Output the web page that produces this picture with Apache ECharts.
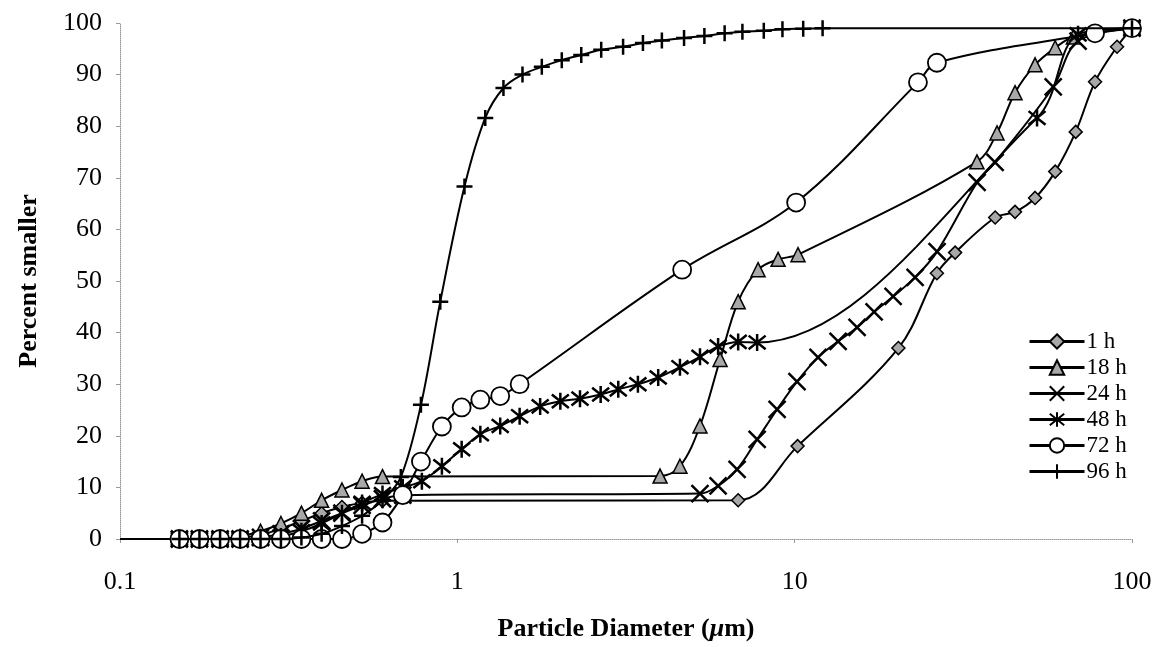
<!DOCTYPE html>
<html>
<head>
<meta charset="utf-8">
<script src="https://cdn.jsdelivr.net/npm/echarts@6/dist/echarts.min.js"></script>
<style>
  html, body { margin: 0; padding: 0; background: #fff; }
  #chart { width: 1162px; height: 647px; }
</style>
</head>
<body>
<div id="chart"></div>
<script>
// Cumulative particle size distributions: [diameter (µm), percent smaller]
const h1 = [
  [0.1, 0], [0.15, 0], [0.172, 0], [0.198, 0], [0.227, 0.3], [0.261, 0.8], [0.3, 2], [0.345, 3.5],
  [0.396, 5], [0.455, 6.2], [0.522, 7], [0.6, 7.4],
  [6.8, 7.5], [10.2, 18], [20.3, 37], [26.4, 51.5], [29.9, 55.5], [39.3, 62.3], [45, 63.4],
  [51.6, 66.1], [59.2, 71.2], [68.1, 78.9], [77.7, 88.6], [90.3, 95.4], [100, 99]
];
const h18 = [
  [0.15, 0], [0.172, 0], [0.198, 0], [0.227, 0.5], [0.261, 1.5], [0.3, 3], [0.345, 5], [0.396, 7.5],
  [0.455, 9.5], [0.522, 11.2], [0.6, 12.1],
  [3.99, 12.2], [4.57, 14.1], [5.24, 21.9], [6.01, 34.8], [6.8, 46], [7.79, 52.2], [8.93, 54.2],
  [10.23, 55.1], [34.7, 73.1], [39.8, 78.7], [45, 86.5], [51.6, 91.9], [59.2, 95.2], [67, 97.3], [100, 99]
];
const h24 = [
  [0.15, 0], [0.172, 0], [0.198, 0], [0.227, 0], [0.261, 0.3], [0.3, 1], [0.345, 2], [0.396, 3.5],
  [0.455, 5], [0.522, 6.5], [0.6, 7.8], [0.689, 8.5],
  [5.24, 8.8], [5.93, 10.3], [6.75, 13.5], [7.74, 19.3], [8.87, 25.1], [10.16, 30.5], [11.73, 35.2],
  [13.45, 38.3], [15.31, 41], [17.2, 44], [19.58, 47], [22.75, 50.7], [26.44, 55.7], [34.74, 69.1],
  [39.28, 73], [58.4, 87.6], [69.2, 96.5], [100, 99]
];
const h48 = [
  [0.15, 0], [0.172, 0], [0.198, 0], [0.227, 0], [0.261, 0], [0.3, 0.5], [0.345, 1.5], [0.396, 3],
  [0.455, 5], [0.522, 7], [0.6, 8.7], [0.689, 10], [0.785, 11.2], [0.9, 14.1], [1.03, 17.4],
  [1.17, 20.3], [1.34, 21.9], [1.53, 23.8], [1.76, 25.7], [2.02, 26.7], [2.31, 27.2], [2.66, 28],
  [3.0, 29], [3.43, 30], [3.94, 31.3], [4.57, 33.3], [5.24, 35.3], [5.93, 37.3], [6.8, 38.2],
  [7.74, 38.1], [52.3, 81.6], [69.2, 97.8], [100, 99]
];
const h72 = [
  [0.15, 0], [0.172, 0], [0.198, 0], [0.227, 0], [0.261, 0], [0.3, 0], [0.345, 0], [0.396, 0],
  [0.455, 0], [0.522, 1], [0.6, 3.2], [0.689, 8.5], [0.78, 15], [0.9, 21.8], [1.03, 25.5],
  [1.17, 27], [1.34, 27.7], [1.53, 30], [4.64, 52.2], [10.1, 65.2], [23.2, 88.5], [26.4, 92.3],
  [77.7, 98], [100, 99]
];
const h96 = [
  [0.15, 0], [0.172, 0], [0.198, 0], [0.227, 0], [0.261, 0], [0.3, 0], [0.345, 0.3], [0.396, 1],
  [0.455, 2.5], [0.522, 4.5], [0.6, 7.5], [0.68, 12], [0.78, 26], [0.89, 46], [1.05, 68.3],
  [1.21, 81.6], [1.37, 87.4], [1.56, 90], [1.78, 91.5], [2.04, 92.8], [2.33, 93.8], [2.67, 94.8],
  [3.1, 95.4], [3.55, 96.1], [4.04, 96.6], [4.7, 97.1], [5.4, 97.5], [6.2, 98], [7.0, 98.3],
  [8.1, 98.5], [9.2, 98.8], [10.6, 98.9], [12.1, 99], [100, 99]
];

const seriesNames = ['1 h', '18 h', '24 h', '48 h', '72 h', '96 h'];
const xTickLabels = ['0.1', '1', '10', '100'];
const yTicks = [0, 10, 20, 30, 40, 50, 60, 70, 80, 90, 100];

const SERIF = '"Liberation Serif", "Times New Roman", serif';

// marker glyphs
const CROSS = 'path://M0,0L10,10M10,0L0,10';
const STAR = 'path://M1,1L9,9M9,1L1,9M5,0L5,10';
const PLUS = 'path://M5,0L5,10M0,5L10,5';

const styles = [
  { symbol: 'diamond', symbolSize: 13, fill: '#a8a8a8', border: 1.5 },
  { symbol: 'triangle', symbolSize: 14, fill: '#a8a8a8', border: 1.5 },
  { symbol: CROSS, symbolSize: 17, fill: '#000', border: 2.5 },
  { symbol: STAR, symbolSize: 17, fill: '#000', border: 2.5 },
  { symbol: 'circle', symbolSize: 18, fill: '#fff', border: 1.8 },
  { symbol: PLUS, symbolSize: 16, fill: '#000', border: 2.5 }
];

function toData(points) {
  // the curve starts on the axis edge without a marker
  return points.map(p => p[0] === 0.1 ? { value: p, symbol: 'none' } : { value: p });
}

const allData = [h1, h18, h24, h48, h72, h96];

const series = allData.map((pts, i) => ({
  name: seriesNames[i],
  type: 'line',
  data: toData(pts),
  smooth: 0.35,
  symbol: styles[i].symbol,
  symbolSize: styles[i].symbolSize,
  showAllSymbol: true,
  z: 2 + i,
  lineStyle: { color: '#000', width: 2 },
  itemStyle: { color: styles[i].fill, borderColor: '#000', borderWidth: styles[i].border, opacity: 1 },
  emphasis: { disabled: true },
  animation: false
}));

const chart = echarts.init(document.getElementById('chart'), null, { renderer: 'canvas' });
chart.setOption({
  backgroundColor: '#fff',
  animation: false,
  textStyle: { fontFamily: SERIF, color: '#000' },
  grid: { left: 120, right: 30, top: 23, bottom: 107, containLabel: false },
  legend: {
    orient: 'vertical',
    left: 1023,
    top: 325,
    itemWidth: 55,
    itemHeight: 18,
    itemGap: 3,
    data: seriesNames,
    lineStyle: { width: 3 },
    textStyle: { fontFamily: SERIF, fontSize: 23, color: '#000', padding: [0, 0, 0, -3] },
    selectedMode: false
  },
  xAxis: {
    type: 'log',
    logBase: 10,
    min: 0.1,
    max: 100,
    name: 'Particle Diameter ({i|\u03bc}m)',
    nameLocation: 'middle',
    nameGap: 77,
    nameTextStyle: {
      fontFamily: SERIF, fontSize: 26, fontWeight: 'bold', color: '#000',
      rich: { i: { fontFamily: SERIF, fontSize: 26, fontWeight: 'bold', fontStyle: 'italic', color: '#000' } }
    },
    axisLine: { show: true, lineStyle: { color: '#999', width: 1, type: 'dotted' } },
    axisTick: { show: true, inside: false, length: 4, lineStyle: { color: '#999' } },
    minorTick: { show: false },
    splitLine: { show: false },
    axisLabel: {
      fontFamily: SERIF, fontSize: 26, color: '#000', margin: 30,
      formatter: v => {
        const s = String(Number(v.toPrecision(3)));
        return xTickLabels.includes(s) ? s : '';
      }
    }
  },
  yAxis: {
    type: 'value',
    min: yTicks[0],
    max: yTicks[yTicks.length - 1],
    interval: 10,
    name: 'Percent smaller',
    nameLocation: 'middle',
    nameGap: 78,
    nameTextStyle: { fontFamily: SERIF, fontSize: 26, fontWeight: 'bold', color: '#000' },
    axisLine: { show: true, lineStyle: { color: '#999', width: 1, type: 'dotted' } },
    axisTick: { show: true, inside: false, length: 4, lineStyle: { color: '#999' } },
    splitLine: { show: false },
    axisLabel: { fontFamily: SERIF, fontSize: 26, color: '#000', margin: 18 }
  },
  series: series
});
</script>
</body>
</html>
